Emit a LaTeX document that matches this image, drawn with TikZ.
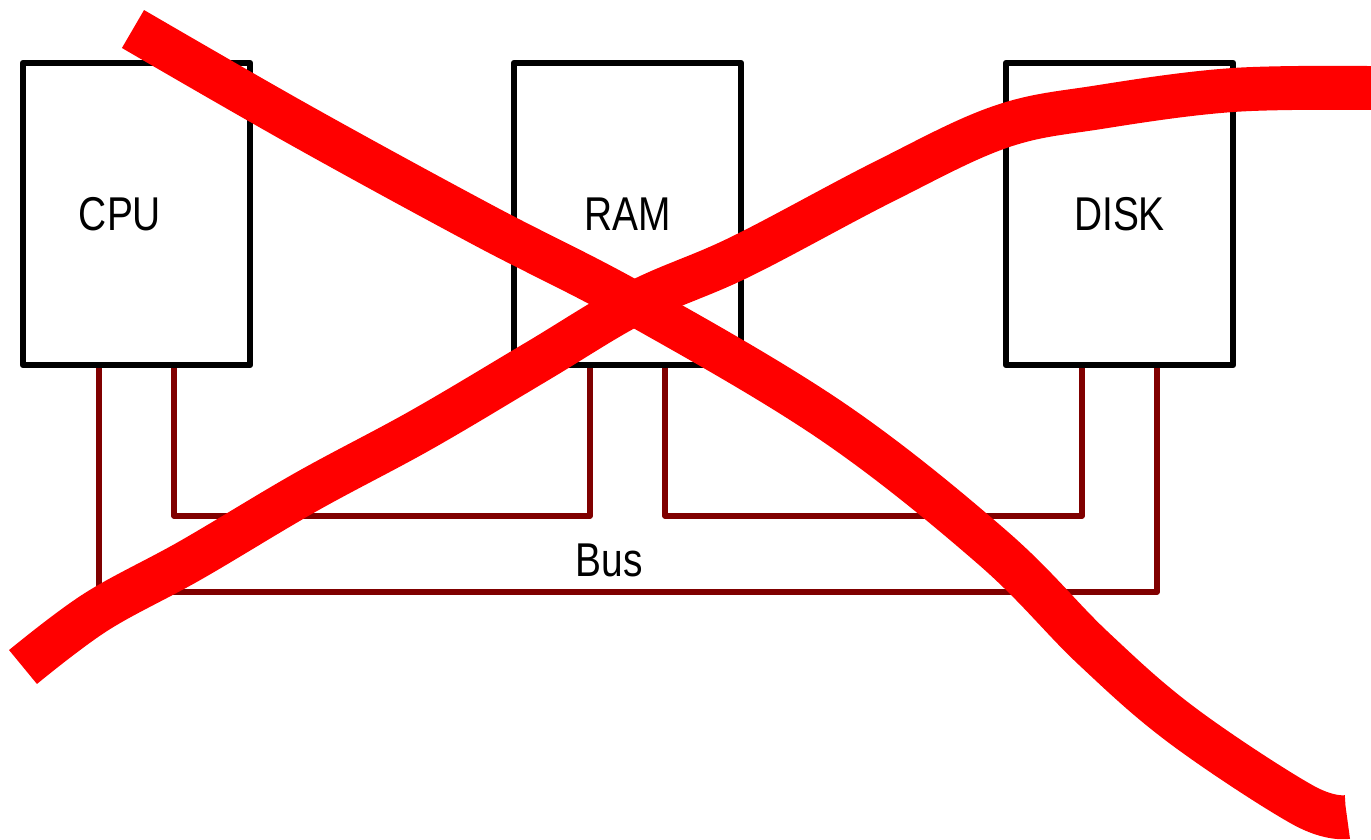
\documentclass[tikz,border=0pt]{standalone}
\usepackage{fontspec}
\newfontfamily\labelfont[FakeStretch=0.82]{Liberation Sans}
\usetikzlibrary{calc}
\definecolor{busred}{HTML}{800000}

\begin{document}
\begin{tikzpicture}[x=0.02cm,y=-0.02cm,
  unit/.style={draw,line width=3.8pt,line join=round,minimum width=4.54cm,minimum height=6.04cm,inner sep=0pt},
  wire/.style={draw=busred,line width=3.2pt,line join=round},
  cross/.style={draw=red,line width=25pt,line join=round},
  lbl/.style={font=\labelfont\fontsize{27}{30}\selectfont,inner sep=0pt}]
\useasboundingbox (0,0) rectangle (1371,839);
  \node[unit,label={[lbl,xshift=-0.33cm]center:CPU}] at (136.5,214) (cpu) {};
  \node[unit,label={[lbl]center:RAM}] at (627.5,214) (ram) {};
  \node[unit,label={[lbl]center:DISK}] at (1119.5,214) (disk) {};

  % bus ports
  \coordinate (cpuL) at ([xshift=-0.75cm]cpu.south);
  \coordinate (cpuR) at ([xshift=0.75cm]cpu.south);
  \coordinate (ramL) at ([xshift=-0.75cm]ram.south);
  \coordinate (ramR) at ([xshift=0.75cm]ram.south);
  \coordinate (diskL) at ([xshift=-0.75cm]disk.south);
  \coordinate (diskR) at ([xshift=0.75cm]disk.south);
  \coordinate (inner) at (0,516);
  \coordinate (outer) at (0,592);

  \draw[wire] (cpuR) |- (ramL |- inner) -- (ramL);
  \draw[wire] (ramR) |- (diskL |- inner) -- (diskL);
  \draw[wire] (cpuL) |- (diskR |- outer) -- (diskR);
  \node[lbl] at (609,560) (bus) {Bus};

  % crossed out
  \draw[cross] plot[smooth,tension=0.6] coordinates {(133,29) (300,125) (483,225) (637,305) (833,422) (993,548) (1093,648) (1183,726) (1303,805) (1347,817)};
  \draw[cross] plot[smooth,tension=0.6] coordinates {(23,667) (96,612) (191,560) (306,492) (421,430) (536,362) (637,302) (740,257) (883,182) (1000,127) (1100,107) (1233,90) (1371,88)};
\end{tikzpicture}
\end{document}
